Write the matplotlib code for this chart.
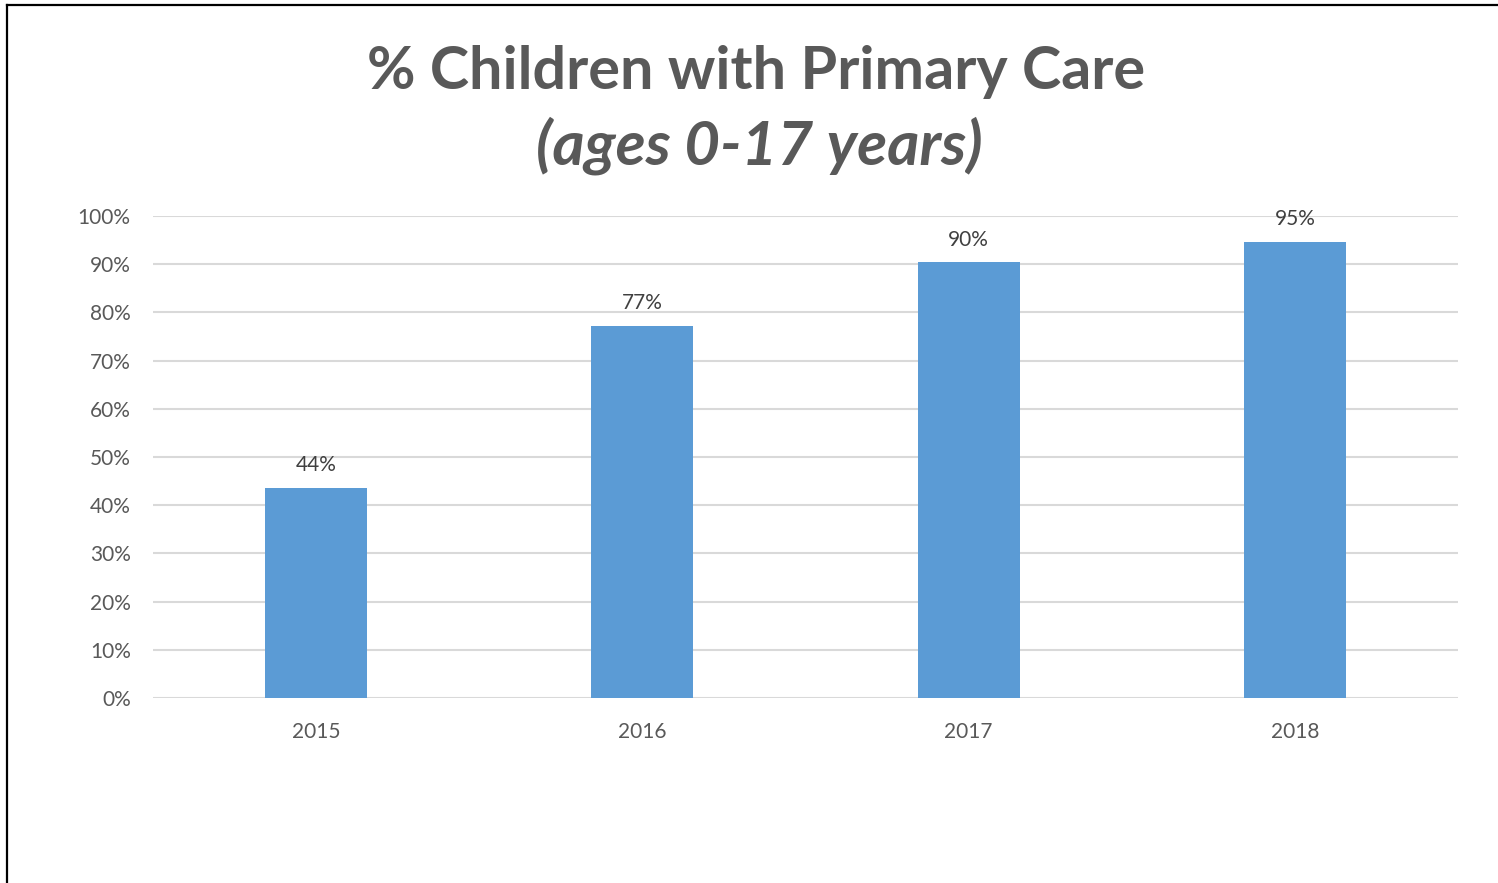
import matplotlib.pyplot as plt
from matplotlib.lines import Line2D

years = ['2015', '2016', '2017', '2018']
pct_primary_care = [43.6, 77.2, 90.4, 94.6]
y_ticks = [0, 10, 20, 30, 40, 50, 60, 70, 80, 90, 100]

plt.rcParams['font.family'] = ['Lato', 'DejaVu Sans']
grey = '#595959'

fig = plt.figure(figsize=(14.98, 8.83), dpi=100)
ax = fig.add_axes([0.1021, 0.2095, 0.8712, 0.5459])

x = range(len(years))
bars = ax.bar(x, pct_primary_care, width=0.312, color='#5B9BD5', zorder=3)

for b, v in zip(bars, pct_primary_care):
    ax.text(b.get_x() + b.get_width() / 2, v + 2.6, '{:.0f}%'.format(v),
            ha='center', va='bottom', fontsize=15, color='#404040')

ax.set_xlim(-0.5, 3.5)
ax.set_ylim(0, 100)
ax.set_xticks(list(x))
ax.set_xticklabels(years)
ax.set_yticks(y_ticks)
ax.set_yticklabels(['{}%'.format(t) for t in y_ticks])
ax.tick_params(axis='both', length=0, labelsize=15, labelcolor=grey)
ax.tick_params(axis='x', pad=17)
ax.tick_params(axis='y', pad=16)
ax.grid(axis='y', color='#D9D9D9', linewidth=1.5, zorder=0)
for s in ax.spines.values():
    s.set_visible(False)

# two-line title: bold, then bold italic
fig.text(0.505, 0.919, '% Children with Primary Care', ha='center', va='center',
         fontsize=42.7, fontweight='bold', color=grey)
fig.text(0.507, 0.835, '(ages 0-17 years)', ha='center', va='center',
         fontsize=44.5, fontweight='bold', fontstyle='italic', color=grey)

# outer frame (left and top edges only)
fig.add_artist(Line2D([0.0047, 0.0047], [0, 0.9943], color='black', linewidth=1.6,
                      transform=fig.transFigure))
fig.add_artist(Line2D([0.0047, 1], [0.9943, 0.9943], color='black', linewidth=1.6,
                      transform=fig.transFigure))

fig.savefig('out.png', dpi=100)
